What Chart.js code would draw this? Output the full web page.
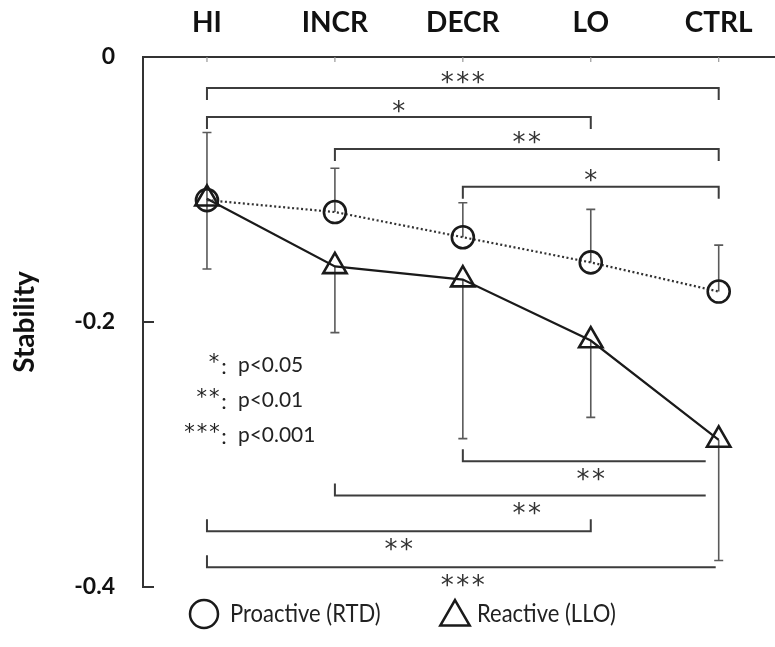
<!DOCTYPE html>
<html><head><meta charset="utf-8">
<script src="https://cdn.jsdelivr.net/npm/chart.js@4/dist/chart.umd.min.js"></script>
<style>html,body{margin:0;padding:0;background:#fff}#wrap{width:775px;height:647px}</style>
</head><body><div id="wrap"><canvas id="c" width="775" height="647"></canvas></div>
<script>
// ---- data ----
const categories = ['HI', 'INCR', 'DECR', 'LO', 'CTRL'];
const proactiveMean  = [-0.108, -0.117, -0.136, -0.155, -0.177];
const proactiveUpper = [-0.057, -0.084, -0.110, -0.115, -0.142];
const reactiveMean   = [-0.107, -0.158, -0.168, -0.214, -0.289];
const reactiveLower  = [-0.160, -0.208, -0.288, -0.272, -0.380];
const yTickValues = [0, -0.2, -0.4];
const yTickLabels = ['0', '-0.2', '-0.4'];
const seriesNames = ['Proactive (RTD)', 'Reactive (LLO)'];
const sigStars = ['*', '**', '***'];
const sigText  = ['p<0.05', 'p<0.01', 'p<0.001'];
// significance brackets (category indices, level in data units, label)
const bracketFrom  = [0, 0, 1, 2, 2, 1, 0, 0];
const bracketTo    = [4, 3, 4, 4, 4, 4, 3, 4];
const bracketLevel = [-0.0234, -0.0453, -0.0694, -0.098, -0.305, -0.331, -0.358, -0.385];
const bracketLabel = ['***', '*', '**', '*', '**', '**', '**', '***'];

const INK = '#1a1a1a';

function drawStars(ctx, n, cx, cy, size, gap) {
  ctx.save();
  ctx.font = size + 'px "DejaVu Sans"';
  ctx.textAlign = 'center';
  ctx.textBaseline = 'alphabetic';
  const m = ctx.measureText('*');
  const off = (m.actualBoundingBoxAscent - m.actualBoundingBoxDescent) / 2;
  for (let k = 0; k < n; k++) {
    const x = cx + (k - (n - 1) / 2) * gap;
    ctx.fillText('*', x, cy + off);
  }
  ctx.restore();
}

function narrowText(ctx, text, x, y, sx) {
  ctx.save();
  ctx.translate(x, y);
  ctx.scale(sx, 1);
  ctx.fillText(text, 0, 0);
  ctx.restore();
}

const errorBars = {
  id: 'errorBars',
  beforeDatasetsDraw(chart) {
    const {ctx, scales: {x, y}} = chart;
    ctx.save();
    ctx.strokeStyle = '#5a5a5a';
    ctx.lineWidth = 1.6;
    const bars = [[proactiveMean, proactiveUpper], [reactiveMean, reactiveLower]];
    bars.forEach(([mean, bound]) => {
      mean.forEach((m, i) => {
        const px = x.getPixelForValue(i);
        const p0 = y.getPixelForValue(m), p1 = y.getPixelForValue(bound[i]);
        ctx.beginPath();
        ctx.moveTo(px, p0); ctx.lineTo(px, p1);
        ctx.moveTo(px - 4.5, p1); ctx.lineTo(px + 4.5, p1);
        ctx.stroke();
      });
    });
    ctx.restore();
  }
};

const axisTicks = {
  id: 'axisTicks',
  afterDraw(chart) {
    const {ctx, chartArea: a, scales: {x, y}} = chart;
    ctx.save();
    ctx.strokeStyle = '#333';
    ctx.lineWidth = 2;
    yTickValues.forEach(v => {
      if (v === 0) return;
      const py = y.getPixelForValue(v);
      ctx.beginPath(); ctx.moveTo(a.left, py); ctx.lineTo(a.left + 11, py); ctx.stroke();
    });
    ctx.strokeStyle = '#999';
    ctx.lineWidth = 1.2;
    categories.forEach((c, i) => {
      const px = x.getPixelForValue(i);
      ctx.beginPath(); ctx.moveTo(px, a.top); ctx.lineTo(px, a.top + 5); ctx.stroke();
    });
    ctx.restore();
  }
};

const brackets = {
  id: 'brackets',
  afterDatasetsDraw(chart) {
    const {ctx, scales: {x, y}} = chart;
    ctx.save();
    ctx.strokeStyle = '#3c3c3c';
    ctx.fillStyle = '#333';
    ctx.lineWidth = 2;
    bracketLevel.forEach((lvl, j) => {
      const top = lvl > -0.2;
      const py = y.getPixelForValue(lvl);
      const x1 = x.getPixelForValue(bracketFrom[j]);
      let x2 = x.getPixelForValue(bracketTo[j]);
      const leg = 12;
      const rightLeg = top || bracketTo[j] !== 4;
      if (!rightLeg) x2 -= (bracketFrom[j] === 0 ? 3 : 13);
      ctx.beginPath();
      if (top) {
        ctx.moveTo(x1, py + leg); ctx.lineTo(x1, py); ctx.lineTo(x2, py); ctx.lineTo(x2, py + leg);
      } else {
        ctx.moveTo(x1, py - leg); ctx.lineTo(x1, py); ctx.lineTo(x2, py);
        if (rightLeg) ctx.lineTo(x2, py - leg);
      }
      ctx.stroke();
      const cx = (x.getPixelForValue(bracketFrom[j]) + x.getPixelForValue(bracketTo[j])) / 2;
      drawStars(ctx, bracketLabel[j].length, cx, top ? py - 11 : py + 13, 26, 15.5);
    });
    ctx.restore();
  }
};

const sigKey = {
  id: 'sigKey',
  afterDraw(chart) {
    const {ctx} = chart;
    ctx.save();
    ctx.fillStyle = '#222';
    sigStars.forEach((s, i) => {
      const cy = 365 + 35 * i;
      const n = s.length;
      drawStars(ctx, n, 214 - (n - 1) * 6, cy - 7, 21, 12.5);
      ctx.font = '22px Lato';
      ctx.textBaseline = 'middle';
      ctx.textAlign = 'center';
      ctx.fillText(':', 224, cy + 2);
      ctx.textAlign = 'left';
      narrowText(ctx, sigText[i], 238, cy, 0.95);
    });
    ctx.restore();
  }
};

const customLegend = {
  id: 'customLegend',
  afterDraw(chart) {
    const {ctx} = chart;
    ctx.save();
    ctx.strokeStyle = INK;
    ctx.fillStyle = '#222';
    ctx.lineWidth = 2.5;
    const cy = 614;
    // circle item
    ctx.beginPath(); ctx.arc(204, cy, 14, 0, Math.PI * 2); ctx.stroke();
    // triangle item
    const tx = 455, r = 17, ty = cy + 3;
    ctx.beginPath();
    for (let k = 0; k < 3; k++) {
      const ang = k * 2 * Math.PI / 3;
      const px = tx + Math.sin(ang) * r, py = ty - Math.cos(ang) * r;
      k === 0 ? ctx.moveTo(px, py) : ctx.lineTo(px, py);
    }
    ctx.closePath(); ctx.stroke();
    ctx.font = '25px Lato';
    ctx.textBaseline = 'middle';
    ctx.textAlign = 'left';
    narrowText(ctx, chart.data.datasets[0].label, 230, cy, 0.88);
    narrowText(ctx, chart.data.datasets[1].label, 477, cy, 0.88);
    ctx.restore();
  }
};

new Chart(document.getElementById('c'), {
  type: 'line',
  data: {
    datasets: [
      {
        label: seriesNames[0],
        data: proactiveMean.map((v, i) => ({x: i, y: v})),
        borderColor: '#333', borderWidth: 2.2, borderDash: [2, 2.5],
        pointStyle: 'circle', pointRadius: 11, pointBorderWidth: 2.6,
        pointBorderColor: INK, pointBackgroundColor: 'rgba(0,0,0,0)',
        fill: false, tension: 0
      },
      {
        label: seriesNames[1],
        data: reactiveMean.map((v, i) => ({x: i, y: v})),
        borderColor: INK, borderWidth: 2.2,
        pointStyle: 'triangle', pointRadius: 13.5, pointBorderWidth: 2.6,
        pointBorderColor: INK, pointBackgroundColor: 'rgba(0,0,0,0)',
        fill: false, tension: 0
      }
    ]
  },
  options: {
    responsive: false, animation: false, devicePixelRatio: 1,
    layout: {autoPadding: false, padding: {left: 0, right: 0, top: 0, bottom: 60}},
    plugins: {legend: {display: false}, tooltip: {enabled: false}},
    scales: {
      x: {
        type: 'linear', position: 'top', min: -0.5, max: 4.44,
        afterBuildTicks: s => { s.ticks = categories.map((c, i) => ({value: i})); },
        afterFit: s => { s.height = 57; },
        ticks: {
          callback: v => categories[v], autoSkip: false, maxRotation: 0,
          font: {family: 'Lato', size: 28, weight: 'bold'}, color: '#111', padding: 17
        },
        grid: {display: false, drawTicks: false},
        border: {display: true, color: '#333', width: 2}
      },
      y: {
        type: 'linear', min: -0.4, max: 0,
        afterBuildTicks: s => { s.ticks = yTickValues.map(v => ({value: v})); },
        afterFit: s => { s.width = 143; },
        ticks: {
          callback: (v, i) => yTickLabels[i],
          font: {family: 'Lato', size: 23, weight: 'bold'}, color: '#111', padding: 28
        },
        grid: {display: false, drawTicks: false},
        border: {display: true, color: '#333', width: 2},
        title: {
          display: true, text: 'Stability', color: '#111',
          font: {family: 'Lato', size: 28, weight: 'bold'}, padding: {top: 8, bottom: 0}
        }
      }
    }
  },
  plugins: [errorBars, brackets, axisTicks, sigKey, customLegend]
});
</script>
</body></html>
